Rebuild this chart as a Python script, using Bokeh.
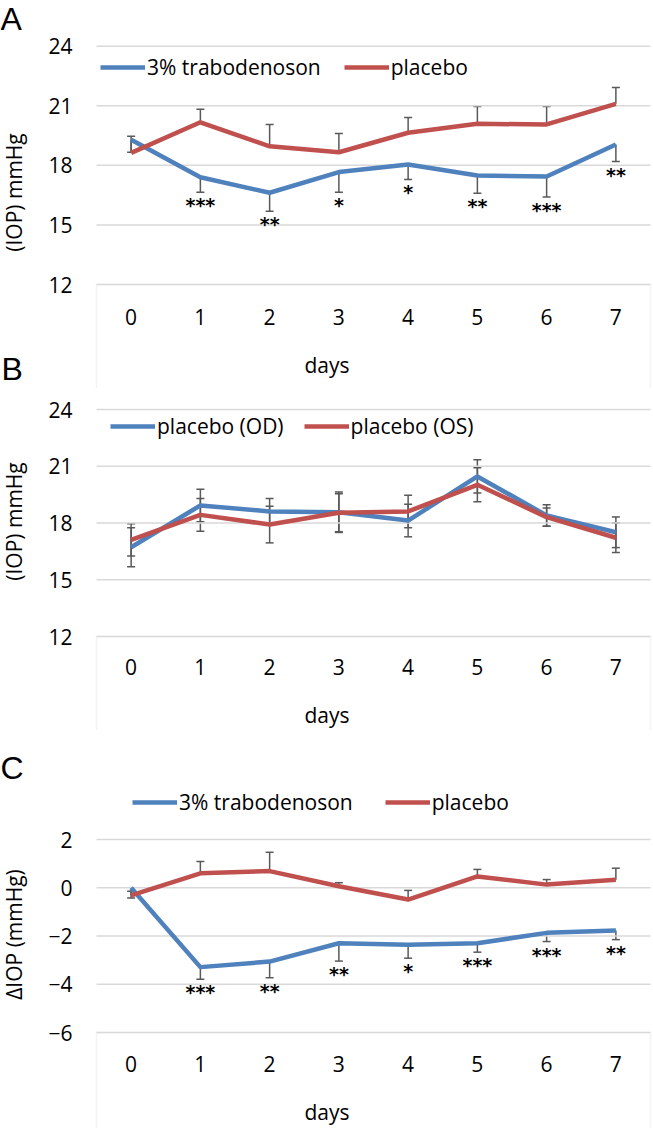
import math
from bokeh.plotting import figure
from bokeh.models import (ColumnDataSource, Whisker, TeeHead, FixedTicker, Range1d,
                          BoxAnnotation, Label)
from bokeh.layouts import column
from bokeh.embed import file_html
from bokeh.resources import INLINE
from bokeh.core.properties import value

# ---------------- data ----------------
days = [0, 1, 2, 3, 4, 5, 6, 7]
day_labels = ["0", "1", "2", "3", "4", "5", "6", "7"]

# Panel A: IOP (mmHg)
a_treat = [19.29, 17.40, 16.62, 17.66, 18.04, 17.49, 17.44, 19.05]
a_treat_err = [0.63, 0.75, 0.93, 1.01, 0.75, 0.89, 1.04, 0.86]
a_placebo = [18.63, 20.17, 18.96, 18.66, 19.64, 20.09, 20.06, 21.10]
a_placebo_err = [0.84, 0.66, 1.10, 0.94, 0.77, 0.87, 0.90, 0.82]
a_stars = ["", "***", "**", "*", "*", "**", "***", "**"]

# Panel B: placebo OD vs OS
b_od = [16.72, 18.93, 18.61, 18.57, 18.13, 20.46, 18.40, 17.51]
b_od_err = [1.03, 0.86, 0.69, 1.07, 0.86, 0.88, 0.57, 0.81]
b_os = [17.11, 18.43, 17.92, 18.54, 18.61, 20.02, 18.31, 17.22]
b_os_err = [0.85, 0.86, 0.97, 1.00, 0.86, 0.90, 0.48, 0.78]

# Panel C: delta IOP (mmHg)
c_treat = [0.0, -3.29, -3.06, -2.30, -2.36, -2.30, -1.87, -1.77]
c_treat_err = [0.42, 0.50, 0.67, 0.74, 0.56, 0.37, 0.36, 0.38]
c_placebo = [-0.32, 0.60, 0.69, 0.06, -0.49, 0.47, 0.13, 0.33]
c_placebo_err = [0.18, 0.49, 0.78, 0.15, 0.38, 0.29, 0.21, 0.48]
c_stars = ["", "***", "**", "**", "*", "***", "***", "**"]

ab_ticks = [12, 15, 18, 21, 24]
c_ticks = [-6, -4, -2, 0, 2]

# ---------------- style ----------------
W = 653
PLOT_L = 96      # left edge of plot area (px)
PLOT_R = 650     # right edge of plot area (px)
BLUE = "#4F81BD"
RED = "#C0504D"
GRID = "#d9d9d9"
BAR = "#595959"
FONT = "Open Sans"
LETTER_FONT = "Liberation Sans"
FS = "21px"
LEG_H = 26
LW = 4.5


class Panel:
    def __init__(self, height, px_hi, v_hi, px_lo, v_lo, ticks, ytitle, title_px,
                 leg_center, leg_x, leg_spacing, xlab_standoff, days_standoff):
        self.h = height
        self.ppu = (px_lo - px_hi) / (v_hi - v_lo)
        self.px_hi, self.v_hi = px_hi, v_hi
        y_end = self.val(0)
        y_start = self.val(height)
        ppx = (PLOT_R - PLOT_L) / 8.0
        self.x0, self.x1 = -0.5, 7.5
        xs = self.x0 - PLOT_L / ppx
        xe = self.x1 + (W - PLOT_R) / ppx
        self.xs = xs
        p = figure(width=W, height=height, x_range=Range1d(xs, xe), y_range=Range1d(y_start, y_end),
                   output_backend="svg", toolbar_location=None, min_border=0)
        p.min_border_left = p.min_border_right = p.min_border_top = p.min_border_bottom = 0
        p.outline_line_color = None
        p.xgrid.visible = False
        p.ygrid.visible = False
        self.p = p

        # horizontal gridlines over the plot area only
        p.segment(x0=[self.x0] * len(ticks), x1=[self.x1] * len(ticks), y0=ticks, y1=ticks,
                  line_color=GRID, line_width=1.5)
        # category box below the lowest gridline
        p.add_layout(BoxAnnotation(top=v_lo, bottom=y_start - 10, left=self.x0, right=self.x1,
                                   fill_color=None, fill_alpha=0,
                                   line_color=GRID, line_width=1.5, level="underlay"))

        xa = p.xaxis[0]
        xa.fixed_location = v_lo
        xa.ticker = FixedTicker(ticks=days)
        xa.major_label_overrides = {d: s for d, s in zip(days, day_labels)}
        xa.axis_label = "days"
        xa.axis_line_color = None
        xa.major_tick_line_color = None
        xa.minor_tick_line_color = None
        xa.major_tick_out = 0
        xa.major_tick_in = 0
        xa.major_label_standoff = xlab_standoff
        xa.axis_label_standoff = days_standoff
        xa.major_label_text_font = FONT
        xa.major_label_text_font_size = FS
        xa.major_label_text_color = "black"
        xa.axis_label_text_font = FONT
        xa.axis_label_text_font_size = FS
        xa.axis_label_text_font_style = "normal"
        xa.axis_label_text_color = "black"

        ya = p.yaxis[0]
        ya.fixed_location = self.x0
        ya.ticker = FixedTicker(ticks=ticks)
        ya.axis_line_color = None
        ya.major_tick_line_color = None
        ya.minor_tick_line_color = None
        ya.major_tick_out = 0
        ya.major_tick_in = 0
        ya.major_label_standoff = 24
        ya.major_label_text_font = FONT
        ya.major_label_text_font_size = FS
        ya.major_label_text_color = "black"

        # rotated y-axis title
        p.add_layout(Label(x=self.x0, y=self.val(title_px), x_offset=13 - PLOT_L,
                           text=ytitle, angle=math.pi / 2, text_font=FONT, text_font_size=FS,
                           text_color="black", text_align="center", text_baseline="alphabetic"))
        self.leg = (leg_center, leg_x, leg_spacing)

    def val(self, px):
        return self.v_hi - (px - self.px_hi) / self.ppu

    def letter(self, text, px, baseline, dx=0):
        self.p.add_layout(Label(x=self.xs, y=self.val(px), x_offset=dx, text=text,
                                text_font=LETTER_FONT, text_font_size="32px", text_color="black",
                                text_baseline=baseline, text_align="left"))

    def style_legend(self):
        leg_center, leg_x, leg_spacing = self.leg
        lg = self.p.legend[0]
        lg.orientation = "horizontal"
        lg.location = (leg_x, self.h - leg_center - LEG_H / 2)
        lg.padding = 0
        lg.margin = 0
        lg.spacing = leg_spacing
        lg.glyph_width = 45
        lg.glyph_height = 20
        lg.label_standoff = 2
        lg.label_text_font = FONT
        lg.label_text_font_size = FS
        lg.label_text_color = "black"
        lg.border_line_color = None
        lg.background_fill_alpha = 0

    def whisker(self, upper, lower, up_head=True, low_head=True):
        src = ColumnDataSource(dict(x=days, upper=upper, lower=lower))
        head = lambda: TeeHead(size=8, line_color=BAR, line_width=1.5)
        self.p.add_layout(Whisker(source=src, base="x", upper="upper", lower="lower",
                                  line_color=BAR, line_width=1.5,
                                  upper_head=head() if up_head else None,
                                  lower_head=head() if low_head else None))

    def stars(self, ys, labels):
        self.p.text(x=days, y=ys, text=labels, text_font=value("DejaVu Sans"),
                    text_font_style="bold", text_font_size="19px", text_align="center",
                    text_baseline="top", y_offset=2, text_color="black")


def minus(v, e):
    return [a - b for a, b in zip(v, e)]


def plus(v, e):
    return [a + b for a, b in zip(v, e)]


# ---------------- Panel A ----------------
A = Panel(388, 45.7, 24, 284.0, 12, ab_ticks, "(IOP) mmHg", 192, 67.7, 100, 23, 24, 23)
A.p.line(days, a_treat, color=BLUE, line_width=LW, line_join="round", legend_label="3% trabodenoson")
A.p.line(days, a_placebo, color=RED, line_width=LW, line_join="round", legend_label="placebo")
A.whisker(a_treat, minus(a_treat, a_treat_err), up_head=False)
A.whisker(plus(a_placebo, a_placebo_err), a_placebo, low_head=False)
A.stars(minus(a_treat, a_treat_err), a_stars)
A.style_legend()
A.letter("A", 0, "top")
A.letter("B", 386, "bottom", 1)

# ---------------- Panel B ----------------
B = Panel(342, 21, 24, 248, 12, ab_ticks, "(IOP) mmHg", 133, 38.7, 110, 20, 22, 23)
B.p.line(days, b_od, color=BLUE, line_width=LW, line_join="round", legend_label="placebo (OD)")
B.p.line(days, b_os, color=RED, line_width=LW, line_join="round", legend_label="placebo (OS)")
B.whisker(plus(b_od, b_od_err), minus(b_od, b_od_err))
B.whisker(plus(b_os, b_os_err), minus(b_os, b_os_err))
B.style_legend()

# ---------------- Panel C ----------------
C = Panel(398, 109, 2, 302, -6, c_ticks, "ΔIOP (mmHg)", 204, 73, 132, 32, 23, 23)
C.p.line(days, c_treat, color=BLUE, line_width=LW, line_join="round", legend_label="3% trabodenoson")
C.p.line(days, c_placebo, color=RED, line_width=LW, line_join="round", legend_label="placebo")
C.whisker(c_treat, minus(c_treat, c_treat_err), up_head=False)
C.whisker(plus(c_placebo, c_placebo_err), c_placebo, low_head=False)
C.stars(minus(c_treat, c_treat_err), c_stars)
C.style_legend()
C.letter("C", 19, "top")

layout = column(A.p, B.p, C.p, spacing=0)
open("out.html", "w").write(file_html(layout, INLINE))
